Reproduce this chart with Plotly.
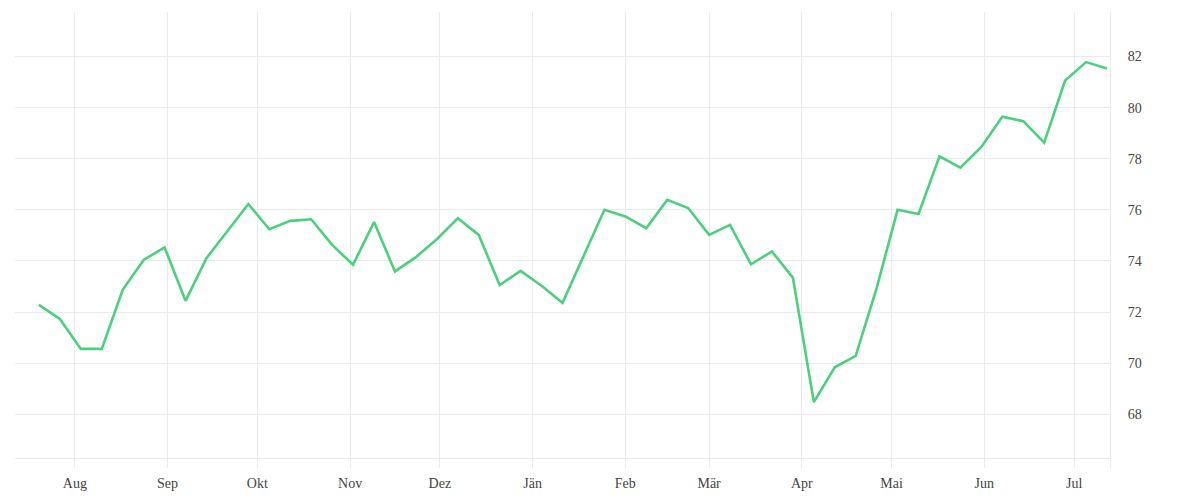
import plotly.graph_objects as go
import pandas as pd

# wöchentliche Werte, 20.07.2020 bis 12.07.2021
start = "2020-07-20"
werte = [
    72.28, 71.73, 70.56, 70.56, 72.87, 74.04, 74.53, 72.44, 74.11, 75.17,
    76.23, 75.24, 75.57, 75.63, 74.63, 73.85, 75.52, 73.59, 74.15, 74.85,
    75.67, 75.02, 73.06, 73.61, 73.03, 72.36, 74.18, 76.00, 75.74, 75.28,
    76.39, 76.07, 75.02, 75.41, 73.87, 74.37, 73.35, 68.48, 69.84, 70.29,
    72.94, 76.00, 75.84, 78.09, 77.65, 78.46, 79.64, 79.47, 78.63, 81.06,
    81.78, 81.53,
]
datum = pd.date_range(start, periods=len(werte), freq="7D")

monate = ["2020-08-01", "2020-09-01", "2020-10-01", "2020-11-01", "2020-12-01",
          "2021-01-01", "2021-02-01", "2021-03-01", "2021-04-01", "2021-05-01",
          "2021-06-01", "2021-07-01"]
monatsnamen = ["Aug", "Sep", "Okt", "Nov", "Dez", "Jän", "Feb", "Mär", "Apr",
               "Mai", "Jun", "Jul"]
y_ticks = [68, 70, 72, 74, 76, 78, 80, 82]

fig = go.Figure(go.Scatter(
    x=datum,
    y=werte,
    mode="lines",
    line=dict(color="#4cd07d", width=2.6),
    hoverinfo="x+y",
))

# die Seite hat 8px Rand, deshalb die schiefen Ränder
fig.update_layout(
    width=1200,
    height=500,
    margin=dict(l=7, r=98, t=4, b=40),
    paper_bgcolor="white",
    plot_bgcolor="white",
    showlegend=False,
    font=dict(family="Liberation Serif", size=14, color="#444"),
    xaxis=dict(
        range=["2020-07-12", "2021-07-13"],
        tickvals=monate,
        ticktext=monatsnamen,
        showgrid=True,
        gridcolor="#ebebeb",
        gridwidth=1,
        zeroline=False,
        showline=True,
        linecolor="#ebebeb",
        linewidth=1,
        anchor="free",
        position=0.022,
        ticks="",
        ticklabelstandoff=12,
    ),
    yaxis=dict(
        range=[65.9, 83.74],
        tickvals=y_ticks,
        side="right",
        showgrid=True,
        gridcolor="#ebebeb",
        gridwidth=1,
        zeroline=False,
        showline=True,
        linecolor="#ebebeb",
        linewidth=1,
        ticks="",
        ticklabelstandoff=14,
    ),
)

fig.write_html("out.html")
